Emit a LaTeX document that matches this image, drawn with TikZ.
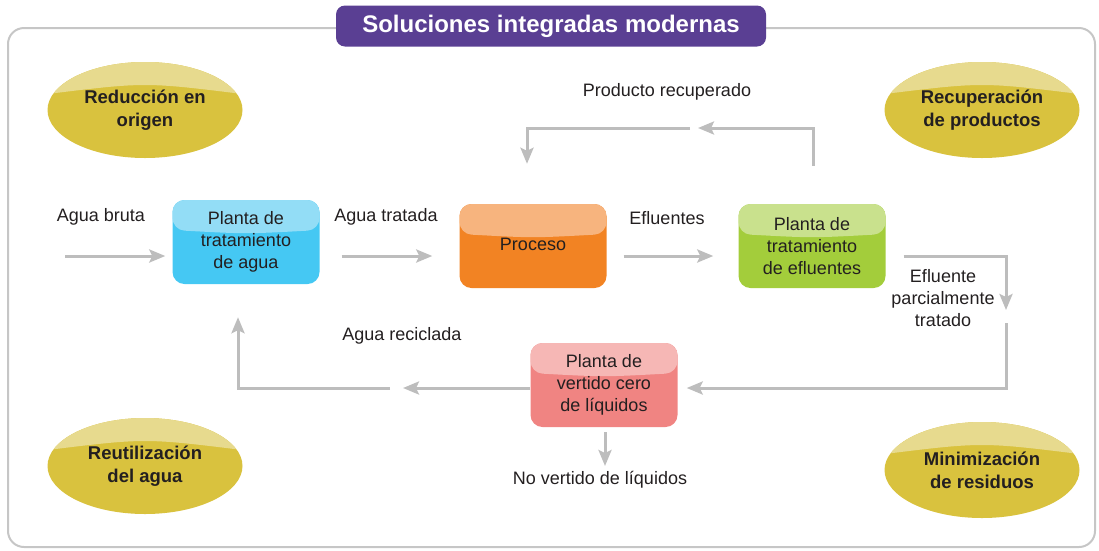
\documentclass[tikz,border=0pt]{standalone}
\usepackage{fontspec}
\setmainfont{Liberation Sans}
\usetikzlibrary{arrows.meta,shapes.geometric}

\definecolor{gris}{HTML}{BDBDBD}
\definecolor{marco}{HTML}{C6C6C6}
\definecolor{morado}{HTML}{5A3F93}
\definecolor{oro}{HTML}{D9C23E}
\definecolor{oroclaro}{HTML}{E7DA8E}
\definecolor{azul}{HTML}{45C8F3}
\definecolor{azulclaro}{HTML}{93DDF6}
\definecolor{naranja}{HTML}{F28323}
\definecolor{naranjaclaro}{HTML}{F7B47E}
\definecolor{verde}{HTML}{A3CD3B}
\definecolor{verdeclaro}{HTML}{C9E18D}
\definecolor{rosa}{HTML}{F08482}
\definecolor{rosaclaro}{HTML}{F6B7B5}
\definecolor{texto}{HTML}{231F20}

\tikzset{
  etiqueta/.style={text=texto, align=center, font=\fontsize{18}{22}\selectfont},
  caja/.style 2 args={etiqueta, rounded corners=12pt, minimum width=147pt, minimum height=84pt,
    fill=#2, path picture={
      \fill[#1] (path picture bounding box.north west)
        -- ([yshift=-30pt]path picture bounding box.north west)
        .. controls ([yshift=-34pt]path picture bounding box.north)
        .. ([yshift=-30pt]path picture bounding box.north east)
        -- (path picture bounding box.north east) -- cycle;}},
  meta/.style={ellipse, text=texto, align=center, font=\fontsize{18.5}{23}\selectfont\bfseries,
    minimum width=195pt, minimum height=96pt, fill=oro, path picture={
      \fill[oroclaro] (path picture bounding box.north west)
        -- ([yshift=-32pt]path picture bounding box.north west)
        .. controls ([yshift=-20pt]path picture bounding box.north)
        .. ([yshift=-32pt]path picture bounding box.north east)
        -- (path picture bounding box.north east) -- cycle;}},
  flecha/.style={draw=gris, line width=3pt, -{Stealth[length=16pt,width=13pt,inset=3pt]}},
  linea/.style={draw=gris, line width=3pt}
}

\begin{document}
\begin{tikzpicture}[x=1pt,y=-1pt]
\useasboundingbox (0,0) rectangle (1099,550);

% marco y titulo
\draw[marco, line width=2pt, rounded corners=16pt] (8,28) rectangle (1095,547);
\node[fill=morado, rounded corners=9pt, minimum width=430pt, minimum height=41pt,
  text=white, font=\fontsize{24}{28}\selectfont\bfseries] (titulo) at (551,26) {Soluciones integradas modernas};

% metas
\node[meta] (reduccion) at (145,110) {Reducción en\\origen};
\node[meta] (recuperacion) at (982,110) {Recuperación\\de productos};
\node[meta] (reutilizacion) at (145,466) {Reutilización\\del agua};
\node[meta] (minimizacion) at (982,470) {Minimización\\de residuos};

% plantas
\node[caja={azulclaro}{azul}] (pta) at (246,242) {Planta de\\tratamiento\\de agua};
\node[caja={naranjaclaro}{naranja}] (proc) at (533,246) {\raisebox{4pt}{Proceso}};
\node[caja={verdeclaro}{verde}] (pte) at (812,246) {Planta de\\tratamiento\\de efluentes};
\node[caja={rosaclaro}{rosa}] (pvc) at (604,385) {Planta de\\vertido cero\\de líquidos};

% etiquetas
\node[etiqueta] (lbruta) at (101,217) {Agua bruta};
\node[etiqueta] (ltratada) at (386,217) {Agua tratada};
\node[etiqueta] (lefluentes) at (667,218) {Efluentes};
\node[etiqueta] (lproducto) at (667,92) {Producto recuperado};
\node[etiqueta] (lparcial) at (943,298) {Efluente\\parcialmente\\tratado};
\node[etiqueta] (lreciclada) at (402,336) {Agua reciclada};
\node[etiqueta] (lnovertido) at (600,480) {No vertido de líquidos};

% puntos libres
\coordinate (fila) at (0,256);
\coordinate (inicio) at (65,256);
\coordinate (d1) at (1006,256);
\coordinate (d2) at (1006,310);
\coordinate (d3) at (1006,323);
\coordinate (d4) at (1006,388);
\coordinate (i1) at (403,388);
\coordinate (i2) at (390,388);
\coordinate (i3) at (238,388);
\coordinate (s1) at (813,128);
\coordinate (s2) at (698,128);
\coordinate (s3) at (690,128);
\coordinate (s4) at (527,128);
\coordinate (b1) at (605,466);

% flujo principal
\draw[flecha, shorten >=7pt] (inicio) -- (inicio -| pta.west);
\draw[flecha, shorten <=22pt, shorten >=27pt] (pta.east |- fila) -- (proc.west |- fila);
\draw[flecha, shorten <=17pt, shorten >=25pt] (proc.east |- fila) -- (pte.west |- fila);

% efluente parcialmente tratado
\draw[flecha, shorten <=18pt] (pte.east |- fila) -- (d1) -- (d2);
\draw[flecha, shorten >=9pt] (d3) -- (d4) -- (d4 -| pvc.east);

% agua reciclada
\draw[flecha] (pvc.west |- d4) -- (i1);
\draw[flecha, shorten >=33pt] (i2) -- (i3) -- (i3 |- pta.south);

% no vertido
\draw[flecha, shorten <=5pt] (pvc.south -| b1) -- (b1);

% producto recuperado
\draw[flecha, shorten <=38pt] (s1 |- pte.north) -- (s1) -- (s2);
\draw[flecha, shorten >=40pt] (s3) -- (s4) -- (s4 |- proc.north);
\end{tikzpicture}
\end{document}
